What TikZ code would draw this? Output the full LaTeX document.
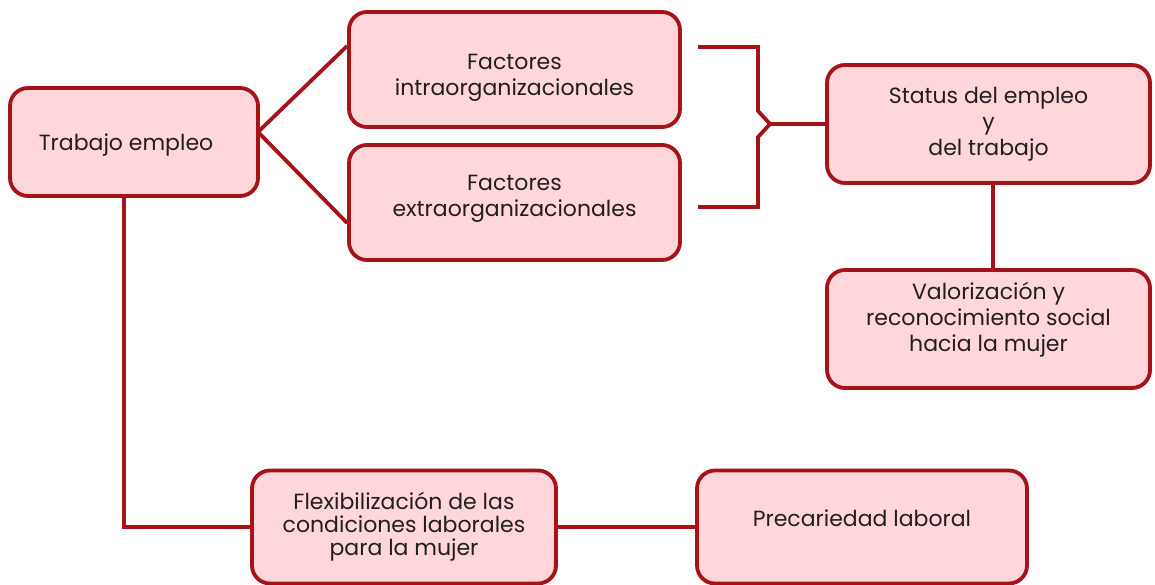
\documentclass[tikz,border=0pt]{standalone}
\usepackage{fontspec}
\setmainfont{Poppins}
\definecolor{bord}{RGB}{165,18,24}
\definecolor{fillc}{RGB}{255,214,218}
\definecolor{txt}{RGB}{35,30,30}
\newcommand{\shtext}[2]{\raisebox{#1}[\height][\depth]{\begin{tabular}{@{}c@{}}#2\end{tabular}}}
\begin{document}
\begin{tikzpicture}[x=1pt,y=-1pt,
  box/.style={draw=bord, fill=fillc, line width=3.8pt, rounded corners=18pt,
    align=center, text=txt, inner sep=0pt, font=\fontsize{22}{26}\selectfont},
  conn/.style={draw=bord, line width=3.8pt}]
\useasboundingbox (0,0) rectangle (1155,585);
\node[box, minimum width=248pt, minimum height=108pt] (trab) at (134,142) {\shtext{-3pt}{Trabajo empleo\hspace*{16pt}}};
\node[box, minimum width=331pt, minimum height=115pt] (intra) at (514.5,69.5) {\shtext{-8pt}{Factores\\intraorganizacionales}};
\node[box, minimum width=331pt, minimum height=115pt] (extra) at (514.5,202.5) {\shtext{4pt}{Factores\\extraorganizacionales}};
\node[box, minimum width=323pt, minimum height=118pt] (status) at (988.5,124) {\shtext{0pt}{Status del empleo\\y\\del trabajo}};
\node[box, minimum width=323pt, minimum height=118pt] (valor) at (988.5,329) {\shtext{8.5pt}{Valorización y\\reconocimiento social\\hacia la mujer}};
\node[box, minimum width=304pt, minimum height=113pt, font=\fontsize{22}{22}\selectfont] (flex) at (404,527) {\shtext{0pt}{Flexibilización de las\\condiciones laborales\\para la mujer}};
\node[box, minimum width=330pt, minimum height=113pt] (prec) at (862,527) {\raisebox{1pt}[0pt][0pt]{Precariedad laboral}};
% connectors
\coordinate (j) at (258,132);
\draw[conn] (j) -- ([yshift=23.5pt]intra.west);
\draw[conn] (j) -- ([yshift=-20.5pt]extra.west);
\coordinate (tip) at (770,124);
\draw[conn, line join=miter] (698,47) -- (758,47) -- (758,111) -- (tip) -- (758,137) -- (758,207) -- (698,207);
\draw[conn] (tip) -- (status.west |- tip);
\draw[conn] ([xshift=4.5pt]status.south) -- ([xshift=4.5pt]valor.north);
\draw[conn] ([xshift=-10pt]trab.south) |- (flex.west);
\draw[conn] (flex.east) -- (prec.west);
\end{tikzpicture}
\end{document}
